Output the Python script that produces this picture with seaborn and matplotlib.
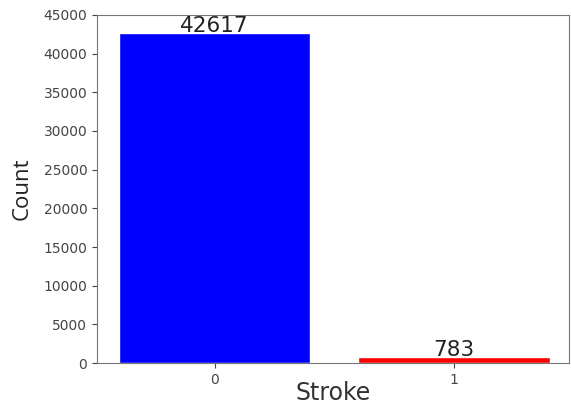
import matplotlib
matplotlib.use("Agg")
import matplotlib.pyplot as plt
import seaborn as sns
import pandas as pd

# valori
stroke = ["0", "1"]
counts = [42617, 783]
colori = ["blue", "red"]

df = pd.DataFrame({"Stroke": stroke, "Count": counts})

sns.set_style("ticks")
plt.rcParams['font.family'] = ['DejaVu Sans']

fig = plt.figure(figsize=(5.71, 4.03), dpi=100)
ax = fig.add_axes([0.17, 0.099, 0.827, 0.864])
sns.barplot(data=df, x="Stroke", y="Count", hue="Stroke", palette=colori, legend=False, ax=ax, width=0.8, saturation=1)
for c in ax.containers:
    ax.bar_label(c, fontsize=15.5, color="#222222", padding=-2)
ax.set_xlim(-0.49, 1.48)
ax.set_ylim(0, 45000)
ax.set_yticks(range(0, 45001, 5000))
ax.tick_params(labelsize=10, colors="#444444")
ax.set_xlabel("Stroke", fontsize=17, color="#333333")
ax.xaxis.set_label_coords(0.5, -0.05)
ax.set_ylabel("Count", fontsize=16, color="#222222", family=["Open Sans", "DejaVu Sans"], labelpad=8)
for s in ax.spines.values():
    s.set_color("#777777")
    s.set_visible(True)
fig.savefig("out.png", dpi=100)
